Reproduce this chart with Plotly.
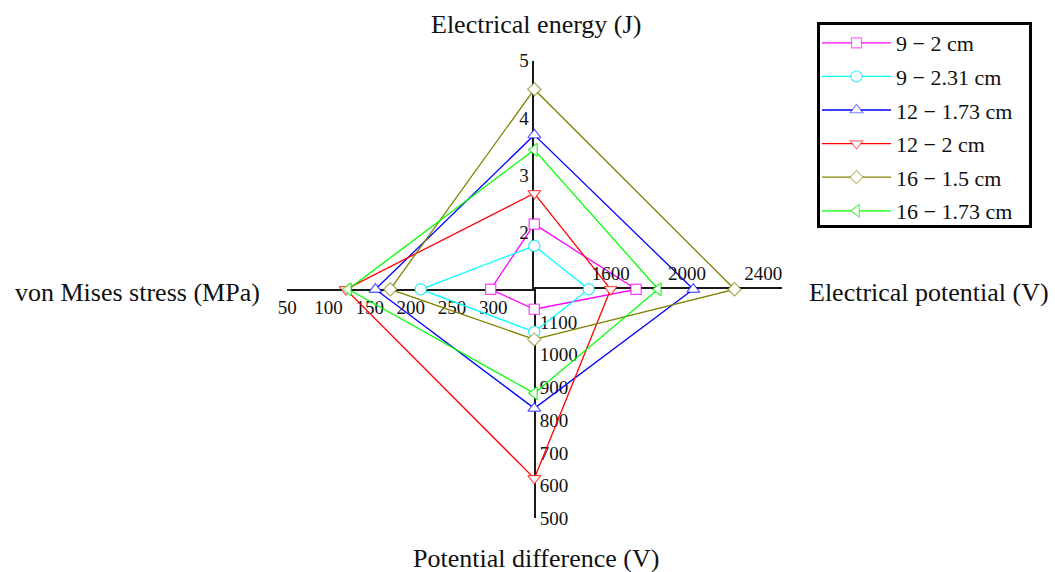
import plotly.graph_objects as go

W, H = 1055, 572

# ---- data ----
series = ["9 − 2 cm", "9 − 2.31 cm", "12 − 1.73 cm", "12 − 2 cm", "16 − 1.5 cm", "16 − 1.73 cm"]
energy_J = [2.14, 1.76, 3.70, 2.68, 4.50, 3.44]          # top spoke
potential_V = [1733, 1485, 2033, 1600, 2249, 1849]       # right spoke
difference_V = [1139, 1070, 836, 622, 1047, 882]         # bottom spoke
stress_MPa = [297, 212, 157, 121, 175, 124]              # left spoke

energy_ticks = [2, 3, 4, 5]
potential_ticks = [1600, 2000, 2400]
difference_ticks = [1100, 1000, 900, 800, 700, 600, 500]
stress_ticks = [50, 100, 150, 200, 250, 300]

colors = ["#FF00FF", "#00FFFF", "#0000FF", "#FF0000", "#808000", "#00FF00"]
marker_edges = ["rgba(255,0,255,0.6)", "rgba(0,230,240,0.65)", "rgba(0,0,255,0.5)",
                "rgba(255,0,0,0.55)", "rgba(128,128,0,0.5)", "rgba(0,230,0,0.6)"]
symbols = ["square", "circle", "triangle-up", "triangle-down", "diamond", "triangle-left"]
msizes = [10, 11, 11, 11, 10, 11]

# ---- spoke geometry (pixels) ----
cx, cy = 534.3, 289.3
top_px, bottom_px, left_px, right_px = 60.7, 518.3, 287.3, 781.7

def fx(px):
    return px / W

def fy(py):
    return 1 - py / H

# spoke ranges: value at centre -> value at the far end of each axis line
energy_range = [1, 5]
potential_range = [1200, 2496]
difference_range = [500, 1200]
stress_range = [50, 350]

FONT = "Liberation Serif"
fig = go.Figure()

for i, name in enumerate(series):
    E, P, D, S = energy_J[i], potential_V[i], difference_V[i], stress_MPa[i]
    c0 = energy_range[0]
    p0 = potential_range[0]
    d0 = difference_range[1]
    s0 = stress_range[1]
    quads = [
        ("x2", "y", [p0, P], [E, c0], True),    # top -> right
        ("x2", "y2", [P, p0], [d0, D], False),  # right -> bottom
        ("x", "y2", [s0, S], [D, d0], False),   # bottom -> left
        ("x", "y", [S, s0], [c0, E], False),    # left -> top
    ]
    for xa, ya, xs, ys, leg in quads:
        fig.add_trace(go.Scatter(
            x=xs, y=ys, xaxis=xa, yaxis=ya,
            mode="lines+markers", name=name, legendgroup=name, showlegend=leg,
            line=dict(color=colors[i], width=1.3),
            marker=dict(symbol=symbols[i], size=msizes[i], color="white",
                        line=dict(color=marker_edges[i], width=1.2)),
            cliponaxis=False, hoverinfo="skip",
        ))

axis_common = dict(showline=True, linecolor="#1a1a1a", linewidth=1.5, showgrid=False,
                   zeroline=False, ticks="", layer="below traces", fixedrange=True,
                   automargin=False,
                   tickfont=dict(family=FONT, size=19, color="#111"))

fig.update_layout(
    template="none",
    width=W, height=H,
    margin=dict(l=0, r=0, t=0, b=0, pad=0, autoexpand=False),
    paper_bgcolor="white", plot_bgcolor="rgba(0,0,0,0)",
    xaxis=dict(domain=[fx(left_px), fx(cx)], range=stress_range, anchor="y", side="bottom",
               tickvals=stress_ticks, **axis_common),
    xaxis2=dict(domain=[fx(cx), fx(right_px)], range=potential_range, anchor="y2", side="top",
                tickvals=potential_ticks, **axis_common),
    yaxis=dict(domain=[fy(cy), fy(top_px)], range=energy_range, anchor="x2", side="left",
               tickvals=energy_ticks, **axis_common),
    yaxis2=dict(domain=[fy(bottom_px), fy(cy)], range=difference_range, anchor="x", side="right",
                tickvals=difference_ticks, **axis_common),
    legend=dict(x=fx(817), y=fy(22), xanchor="left", yanchor="top",
                bgcolor="rgba(0,0,0,0)", borderwidth=0,
                font=dict(family=FONT, size=22, color="#111"),
                itemwidth=69, tracegroupgap=2),
    showlegend=True,
    shapes=[dict(type="rect", xref="paper", yref="paper",
                 x0=fx(818.5), x1=fx(1030.5), y0=fy(226.5), y1=fy(23.5),
                 line=dict(color="black", width=3), fillcolor="white", layer="below")],
)

title_font = dict(family=FONT, size=26, color="#111")
annots = [
    ("Electrical energy (J)", fx(536), fy(24), "center", "middle"),
    ("Potential difference (V)", fx(536), fy(558), "center", "middle"),
    ("von Mises stress (MPa)", fx(262), fy(292), "right", "middle"),
    ("Electrical potential (V)", fx(807), fy(292), "left", "middle"),
]
for text, x, y, xa, ya in annots:
    fig.add_annotation(text=text, x=x, y=y, xref="paper", yref="paper",
                       xanchor=xa, yanchor=ya, showarrow=False, font=title_font)

fig.write_html("out.html",
               post_script="document.body.style.margin='0';document.body.style.overflow='hidden';")
